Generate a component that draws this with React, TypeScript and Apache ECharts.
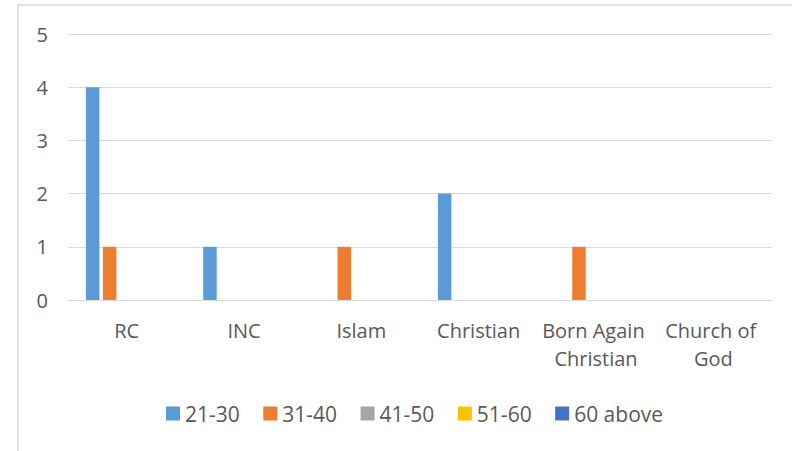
import React, { useEffect, useRef } from "react";
import * as echarts from "echarts";

const categories = ["RC", "INC", "Islam", "Christian", "Born Again Christian", "Church of God"];
const seriesNames = ["21-30", "31-40", "41-50", "51-60", "60 above"];
const age21to30 = [4, 1, 0, 2, 0, 0];
const age31to40 = [1, 0, 1, 0, 1, 0];
const age41to50 = [0, 0, 0, 0, 0, 0];
const age51to60 = [0, 0, 0, 0, 0, 0];
const age60above = [0, 0, 0, 0, 0, 0];
const seriesValues = [age21to30, age31to40, age41to50, age51to60, age60above];
const colors = ["#5B9BD5", "#ED7D31", "#A5A5A5", "#FFC000", "#4472C4"];
const yTicks = [0, 1, 2, 3, 4, 5];

export default function App() {
  const ref = useRef<HTMLDivElement>(null);
  useEffect(() => {
    if (!ref.current) return;
    const chart = echarts.init(ref.current, null, { renderer: "svg" });
    const font = "'Open Sans', 'DejaVu Sans', sans-serif";
    chart.setOption({
      animation: false,
      textStyle: { fontFamily: font },
      graphic: [
        {
          type: "rect",
          shape: { x: 18, y: 5, width: 800, height: 500 },
          style: { fill: "none", stroke: "#D9D9D9", lineWidth: 1.5 },
          silent: true,
        },
      ],
      grid: { left: 68, right: 20, top: 34, bottom: 151, containLabel: false },
      xAxis: {
        type: "category",
        data: categories,
        axisLine: { show: true, lineStyle: { color: "#D9D9D9", width: 1 } },
        axisTick: { show: false },
        axisLabel: {
          color: "#595959",
          fontSize: 20,
          fontFamily: font,
          margin: 16,
          lineHeight: 28,
          interval: 0,
          width: 115,
          overflow: "break",
        },
      },
      yAxis: {
        type: "value",
        min: yTicks[0],
        max: yTicks[yTicks.length - 1],
        interval: 1,
        axisLine: { show: false },
        axisTick: { show: false },
        splitLine: { lineStyle: { color: "#D9D9D9", width: 1 } },
        axisLabel: { color: "#595959", fontSize: 20, fontFamily: font, margin: 20 },
      },
      legend: {
        data: seriesNames,
        left: 166,
        top: 403,
        padding: 0,
        itemWidth: 14,
        itemHeight: 14,
        itemGap: 23.5,
        icon: "rect",
        textStyle: { color: "#595959", fontSize: 21, fontFamily: font },
      },
      series: seriesNames.map((name, i) => ({
        name,
        type: "bar",
        data: seriesValues[i],
        barWidth: 13.5,
        barGap: "26%",
        itemStyle: { color: colors[i] },
      })),
    });
    return () => chart.dispose();
  }, []);
  return (
    <div
      ref={ref}
      style={{ position: "fixed", left: 0, top: 0, width: 792, height: 451, background: "#fff" }}
    />
  );
}
